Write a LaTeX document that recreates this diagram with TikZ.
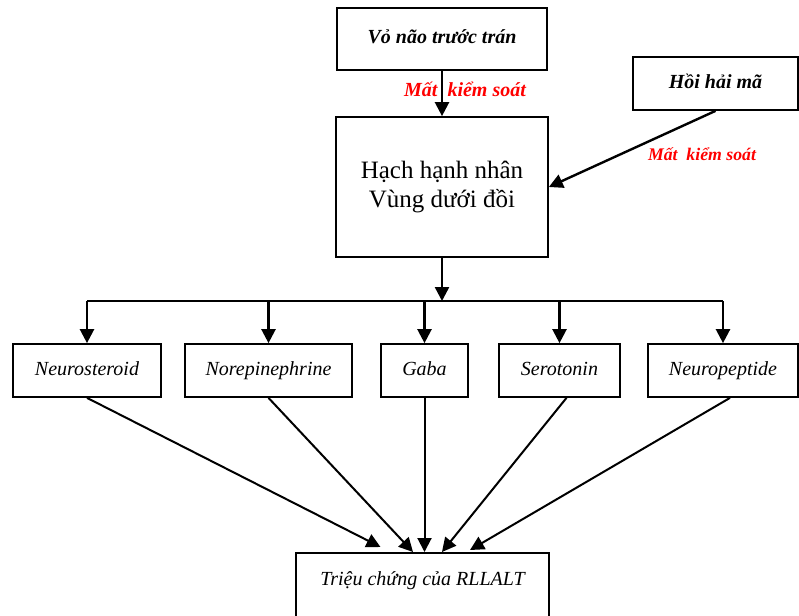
\documentclass[tikz,border=0pt]{standalone}
\usepackage{fontspec}
\setmainfont{Liberation Serif}
\usetikzlibrary{arrows.meta,calc}

\begin{document}
\begin{tikzpicture}[x=0.75pt, y=-0.75pt,
		box/.style={draw, line width=1.3pt, inner sep=0pt, minimum height=39.75pt, text height=10.5pt, text depth=3.5pt, font=\fontsize{15}{18}\selectfont\itshape},
		arr/.style={line width=1.8pt, -{Triangle[length=10.5pt, width=10.5pt]}},
		ctl/.style={red, inner sep=0pt, font=\fontsize{15}{18}\selectfont\bfseries\itshape}]
		\useasboundingbox (0, 0) rectangle (799, 615);
		\node[box, minimum width=157.5pt, minimum height=46.5pt, font=\fontsize{15}{18}\selectfont\bfseries\itshape] (vonao) at (442, 39) {Vỏ não trước trán};
		\node[box, minimum width=123.75pt, font=\fontsize{15}{18}\selectfont\bfseries\itshape] (hoihaima) at (715.5, 83.5) {Hồi hải mã};
		\node[box, minimum width=159pt, minimum height=105pt, text height=, text depth=, align=center, font=\fontsize{18.75}{21.5}\selectfont] (hach) at (442, 187) {Hạch hạnh nhân\\Vùng dưới đồi};
		\node[box, minimum width=111pt] (neuro) at (87, 370.5) {Neurosteroid};
		\node[box, minimum width=125.25pt] (nore) at (268.5, 370.5) {Norepinephrine};
		\node[box, minimum width=65.25pt] (gaba) at (424.5, 370.5) {Gaba};
		\node[box, minimum width=90.75pt] (sero) at (559.5, 370.5) {Serotonin};
		\node[box, minimum width=112.5pt] (pept) at (723, 370.5) {Neuropeptide};
		\node[box, anchor=north, minimum width=189.75pt, text height=12pt, text depth=60pt, inner ysep=12.75pt] (trieuchung) at (422.5, 552) {Triệu chứng của RLLALT};
		\coordinate (bus) at (442, 301);
		\draw[arr] (vonao) -- (hach);
		\node[ctl] (matks1) at (465, 89) {Mất\ \ kiểm soát};
		\draw[arr] (hoihaima.south) -- (hach.east);
		\node[ctl, font=\fontsize{13.3}{16}\selectfont\bfseries\itshape] (matks2) at (702, 154) {Mất\ \ kiểm soát};
		\draw[arr] (hach) -- (bus);
		\draw[line width=1.8pt] (neuro.north |- bus) -- (pept.north |- bus);
		\foreach \n in {neuro, nore, gaba, sero, pept}
			\draw[arr] (\n.north |- bus) -- (\n.north);
		\draw[arr, line width=1.5pt] (neuro.south) -- ($(trieuchung.north)+(-42, -5)$);
		\draw[arr, line width=1.5pt] (nore.south) -- ($(trieuchung.north)+(-9.5, 0)$);
		\draw[arr, line width=1.5pt] (gaba.south) -- (gaba.south |- trieuchung.north);
		\draw[arr, line width=1.5pt] ($(sero.south)+(7, 0)$) -- ($(trieuchung.north)+(19.5, 0)$);
		\draw[arr, line width=1.5pt] ($(pept.south)+(7, 0)$) -- ($(trieuchung.north)+(47.5, -2)$);
	\end{tikzpicture}
\end{document}
